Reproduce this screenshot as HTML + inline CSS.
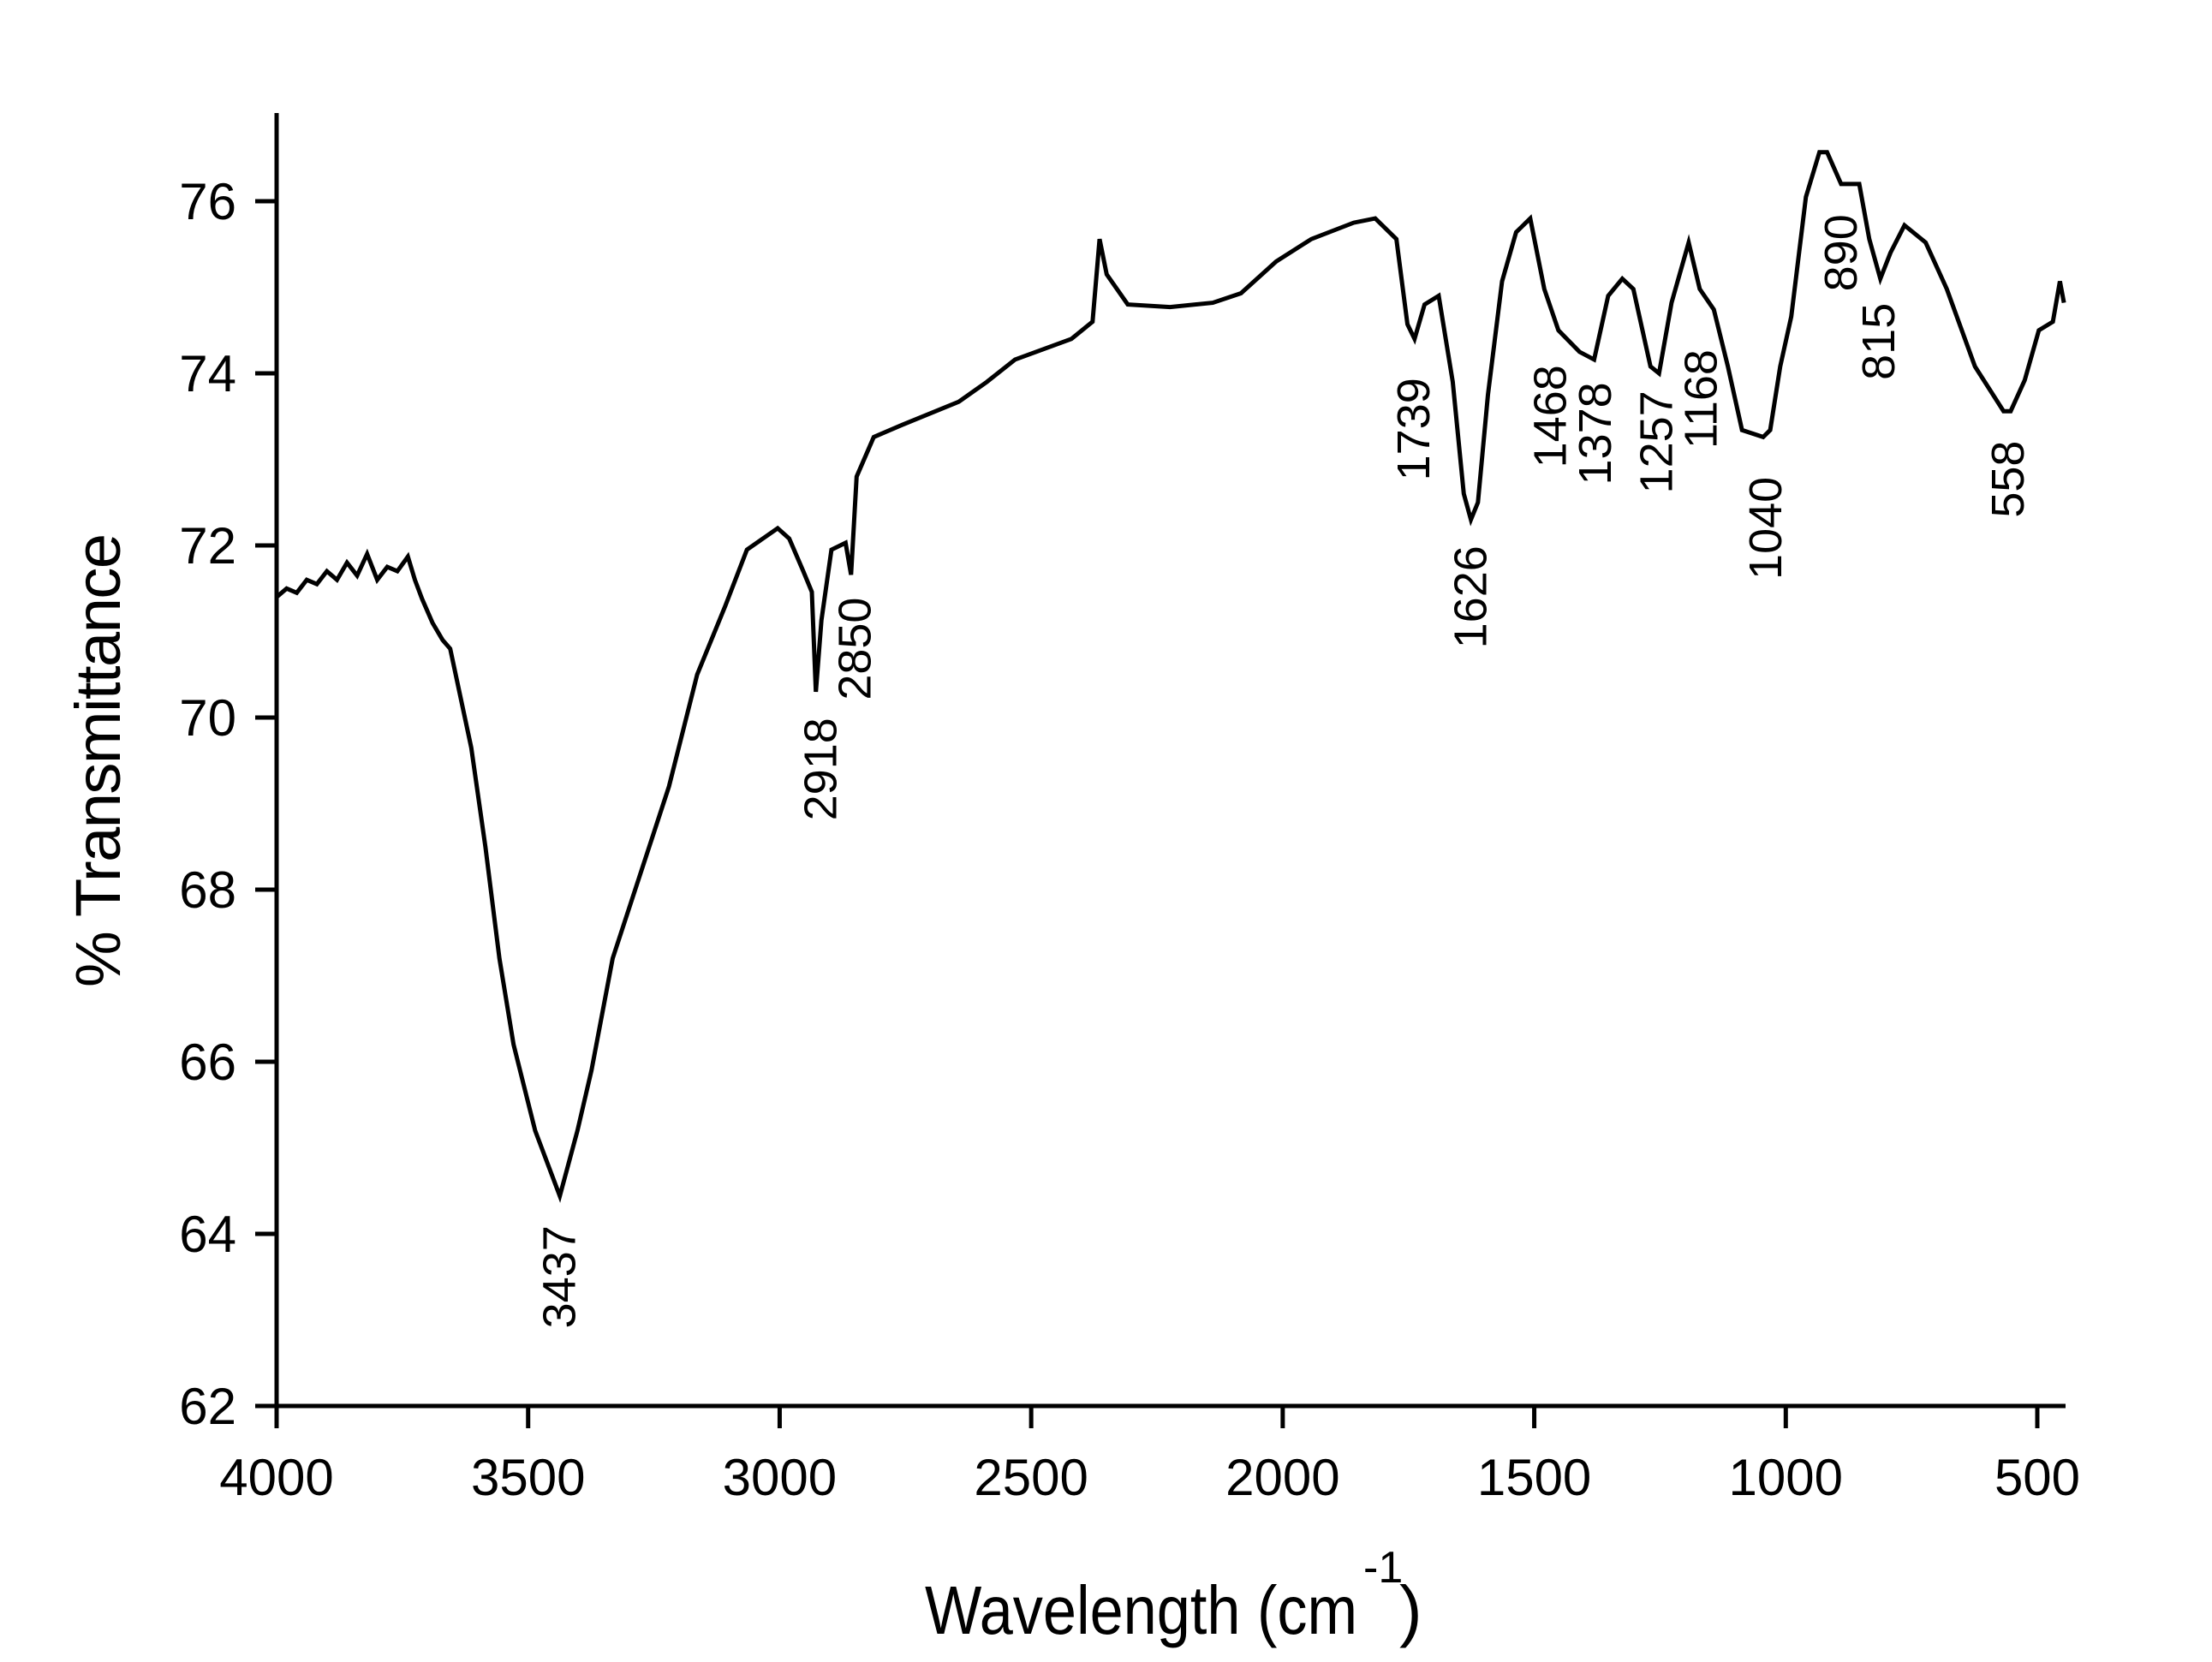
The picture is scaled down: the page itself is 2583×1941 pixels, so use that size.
<!DOCTYPE html>
<html><head><meta charset="utf-8"><style>
html,body{margin:0;padding:0;background:#fff;}
svg{display:block;font-family:"Liberation Sans",Arial,sans-serif;}
</style></head><body>
<svg id="chart" width="2583" height="1941" viewBox="0 0 2583 1941">
<g id="axes"></g>
<path id="curve" fill="none" stroke="#000" stroke-width="5" stroke-linejoin="miter"/>
<g id="peaks"></g>
<text x="0" y="0" transform="translate(140,888) rotate(-90)" text-anchor="middle" font-size="74" textLength="530">% Transmittance</text>
<text x="1080" y="1908" font-size="80" textLength="505" lengthAdjust="spacingAndGlyphs">Wavelength (cm</text>
<text x="1592" y="1848" font-size="52">-1</text>
<text x="1634" y="1908" font-size="80">)</text>
</svg>
<script>
const wavenumbers=[4000,3980,3960,3940,3920,3900,3880,3860,3840,3820,3800,3780,3760,3739,3725,3711,3690,3670,3655,3613,3585,3557,3529,3486,3437,3402,3374,3332,3276,3220,3164,3108,3065,3004,2981,2953,2936,2928,2917,2897,2869,2858,2847,2813,2757,2644,2588,2532,2420,2378,2364,2350,2308,2224,2139,2083,2013,1943,1859,1816,1774,1752,1738,1718,1690,1662,1640,1626,1612,1592,1564,1536,1508,1480,1452,1410,1381,1353,1325,1303,1269,1252,1227,1193,1171,1143,1115,1087,1045,1031,1011,989,960,933,918,890,854,834,812,792,764,722,680,624,567,553,525,497,469,455,447];
const transmittance=[71.4,71.5,71.45,71.6,71.55,71.7,71.6,71.8,71.65,71.9,71.6,71.75,71.7,71.87,71.6,71.38,71.1,70.9,70.8,69.65,68.5,67.2,66.2,65.2,64.44,65.2,65.9,67.2,68.2,69.2,70.5,71.3,71.95,72.2,72.08,71.7,71.46,70.3,71.13,71.95,72.03,71.66,72.8,73.26,73.4,73.67,73.9,74.16,74.4,74.6,75.56,75.15,74.8,74.77,74.82,74.93,75.3,75.56,75.75,75.8,75.56,74.57,74.4,74.8,74.9,73.9,72.6,72.3,72.5,73.75,75.07,75.64,75.8,74.98,74.5,74.25,74.16,74.9,75.1,74.98,74.08,74.0,74.82,75.52,74.98,74.74,74.08,73.34,73.26,73.34,74.08,74.66,76.05,76.57,76.57,76.2,76.2,75.56,75.1,75.4,75.72,75.52,74.98,74.08,73.56,73.56,73.92,74.5,74.6,75.07,74.82];
const yTicks=[62,64,66,68,70,72,74,76];
const xTicks=[4000,3500,3000,2500,2000,1500,1000,500];
const peakLabels=["3437","2918","2850","1739","1626","1468","1378","1257","1168","1040","890","815","558"];
const peakLabelX=[3437,2918,2850,1739,1626,1468,1378,1257,1168,1040,890,815,558];
const peakLabelT=[63.5,69.4,70.8,73.35,71.4,73.5,73.3,73.2,73.7,72.2,75.4,74.37,72.77];

const X=w=>323+(4000-w)*(2056/3500);
const Y=t=>235+(76-t)*100.5;
const NS="http://www.w3.org/2000/svg";
const axes=document.getElementById('axes');
function mk(tag,attrs,parent){const e=document.createElementNS(NS,tag);for(const k in attrs)e.setAttribute(k,attrs[k]);parent.appendChild(e);return e;}
const yl=mk('line',{x1:323,y1:132,x2:323,y2:1644,stroke:'#000','stroke-width':5},axes);


const xl=mk('line',{x1:321,y1:1642,x2:2412,y2:1642,stroke:'#000','stroke-width':5},axes);


yTicks.forEach(t=>{
  const l=mk('line',{x1:298,y1:Y(t),x2:323,y2:Y(t),stroke:'#000','stroke-width':5},axes);
  
  
  const tx=mk('text',{x:276,y:Y(t)+21,'text-anchor':'end','font-size':60},axes);
  
  
  tx.textContent=t;
});
xTicks.forEach(w=>{
  const l=mk('line',{x1:X(w),y1:1642,x2:X(w),y2:1668,stroke:'#000','stroke-width':5},axes);
  
  
  const tx=mk('text',{x:X(w),y:1746,'text-anchor':'middle','font-size':60},axes);
  
  
  tx.textContent=w;
});
let d='';
wavenumbers.forEach((w,i)=>{d+=(i?'L':'M')+X(w).toFixed(1)+','+Y(transmittance[i]).toFixed(1);});
document.getElementById('curve').setAttribute('d',d);
const pk=document.getElementById('peaks');
peakLabels.forEach((s,i)=>{
  const x=X(peakLabelX[i])+18, y=Y(peakLabelT[i]);
  const tx=mk('text',{x:0,y:0,transform:`translate(${x.toFixed(1)},${y.toFixed(1)}) rotate(-90)`,'text-anchor':'middle','font-size':54},pk);
  
  
  tx.textContent=s;
});
</script>
</body></html>
